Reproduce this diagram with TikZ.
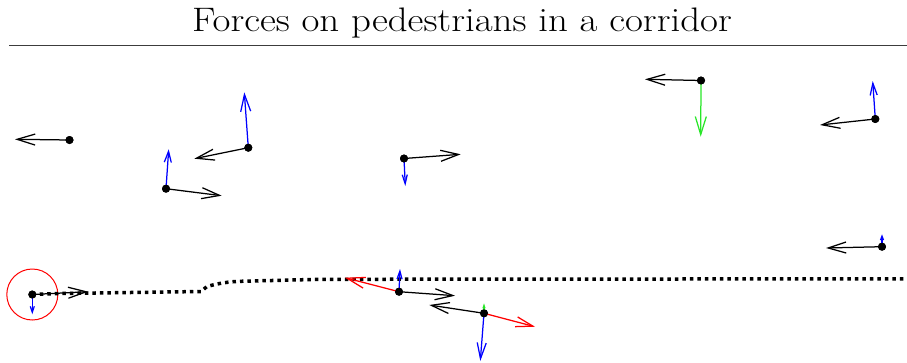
\documentclass[tikz,border=0pt]{standalone}
\usetikzlibrary{arrows.meta}
\definecolor{grn}{RGB}{40,230,40}
\definecolor{rulegray}{RGB}{60,60,60}
\tikzset{
  ped/.style={circle,fill=black,inner sep=0pt,minimum size=8pt},
  ah/.style 2 args={-{Straight Barb[length=#1pt,width=#2pt]}},
  vec/.style={line width=1.25pt},
  walk/.style={line width=3.5pt,dash pattern=on 3.5pt off 4pt,line cap=butt}
}
\begin{document}
\begin{tikzpicture}[x=1pt,y=-1pt]
\useasboundingbox (0,0) rectangle (907,362);
% title and rule
\node[anchor=base,inner sep=0pt] (title) at (462,31) {\scalebox{1.145}[1]{\fontsize{34}{40}\selectfont Forces on pedestrians in a corridor}};
\coordinate (r1) at (9,45.5);
\coordinate (r2) at (907,45.5);
\draw[rulegray,line width=1.7pt] (r1) -- (r2);
% pedestrians
\node[ped] (p1) at (69.5,140) {};
\node[ped] (p2) at (248.3,147.7) {};
\node[ped] (p3) at (166,188.7) {};
\node[ped] (p4) at (404,158.5) {};
\node[ped] (p5) at (701,80.5) {};
\node[ped] (p6) at (875.3,119) {};
\node[ped] (p7) at (882,246.7) {};
\node[ped] (p8) at (32.3,294.5) {};
\node[ped] (p9) at (399,291.7) {};
\node[ped] (p10) at (484,313.3) {};
\node[draw=red,circle,line width=1pt,minimum size=51pt,inner sep=0pt] (zone) at (p8) {};
% walked path
\coordinate (w1) at (60,293.5);
\coordinate (w2) at (201,291.5);
\coordinate (w3) at (207,286.5);
\coordinate (w4) at (240,281.3);
\coordinate (w5) at (320,279.3);
\coordinate (w6) at (907,278.8);
\draw[walk] (p8.center) -- (w1) -- (w2) -- (w3) .. controls (220,283) and (228,281.8) .. (w4) -- (w5) -- (w6);
% tips
\coordinate (t1) at (15,139.3);
\coordinate (t2) at (194.3,158.7);
\coordinate (b2) at (244.3,92.3);
\coordinate (t3) at (221.7,195.7);
\coordinate (b3) at (168.7,149.3);
\coordinate (t4) at (460.7,154.3);
\coordinate (b4) at (405.3,186);
\coordinate (t5) at (645,79.3);
\coordinate (g5) at (700.7,136.7);
\coordinate (t6) at (820,125);
\coordinate (b6) at (872.7,81);
\coordinate (t7) at (826,248);
\coordinate (b7) at (882,234.3);
\coordinate (t8) at (88.3,291.7);
\coordinate (b8) at (32.3,314.3);
\coordinate (t9) at (455,295.7);
\coordinate (r9) at (345,277.7);
\coordinate (b9) at (400,269);
\coordinate (t10) at (429.3,305);
\coordinate (r10) at (535,326.7);
\coordinate (b10) at (480.3,361);
\coordinate (g10) at (484,303.3);
% black: desired direction
\draw[vec,ah={18}{11}] (p1.center) -- (t1);
\draw[vec,ah={18}{11}] (p2.center) -- (t2);
\draw[vec,ah={18}{11}] (p3.center) -- (t3);
\draw[vec,ah={18}{11}] (p4.center) -- (t4);
\draw[vec,ah={18}{11}] (p5.center) -- (t5);
\draw[vec,ah={18}{11}] (p6.center) -- (t6);
\draw[vec,ah={18}{11}] (p7.center) -- (t7);
\draw[vec,ah={18}{11}] (p8.center) -- (t8);
\draw[vec,ah={18}{11}] (p9.center) -- (t9);
\draw[vec,ah={18}{11}] (p10.center) -- (t10);
% blue
\draw[vec,blue,ah={17}{10}] (p2.center) -- (b2);
\draw[vec,blue,ah={11}{7}] (p3.center) -- (b3);
\draw[vec,blue,ah={9}{5}] (p4.center) -- (b4);
\draw[vec,blue,ah={12}{7}] (p6.center) -- (b6);
\draw[vec,blue,ah={4}{3}] (p7.center) -- (b7);
\draw[vec,blue,ah={6}{4}] (p8.center) -- (b8);
\draw[vec,blue,ah={8}{5}] (p9.center) -- (b9);
\draw[vec,blue,ah={16}{9}] (p10.center) -- (b10);
% green
\draw[vec,grn,ah={18}{11}] (p5.center) -- (g5);
\draw[vec,grn,ah={3}{2}] (p10.center) -- (g10);
% red
\draw[vec,red,ah={18}{11}] (p9.center) -- (r9);
\draw[vec,red,ah={17}{10}] (p10.center) -- (r10);
% redraw dots on top
\foreach \p in {p1,p2,p3,p4,p5,p6,p7,p8,p9,p10} \fill (\p) circle (4pt);
\end{tikzpicture}
\end{document}
